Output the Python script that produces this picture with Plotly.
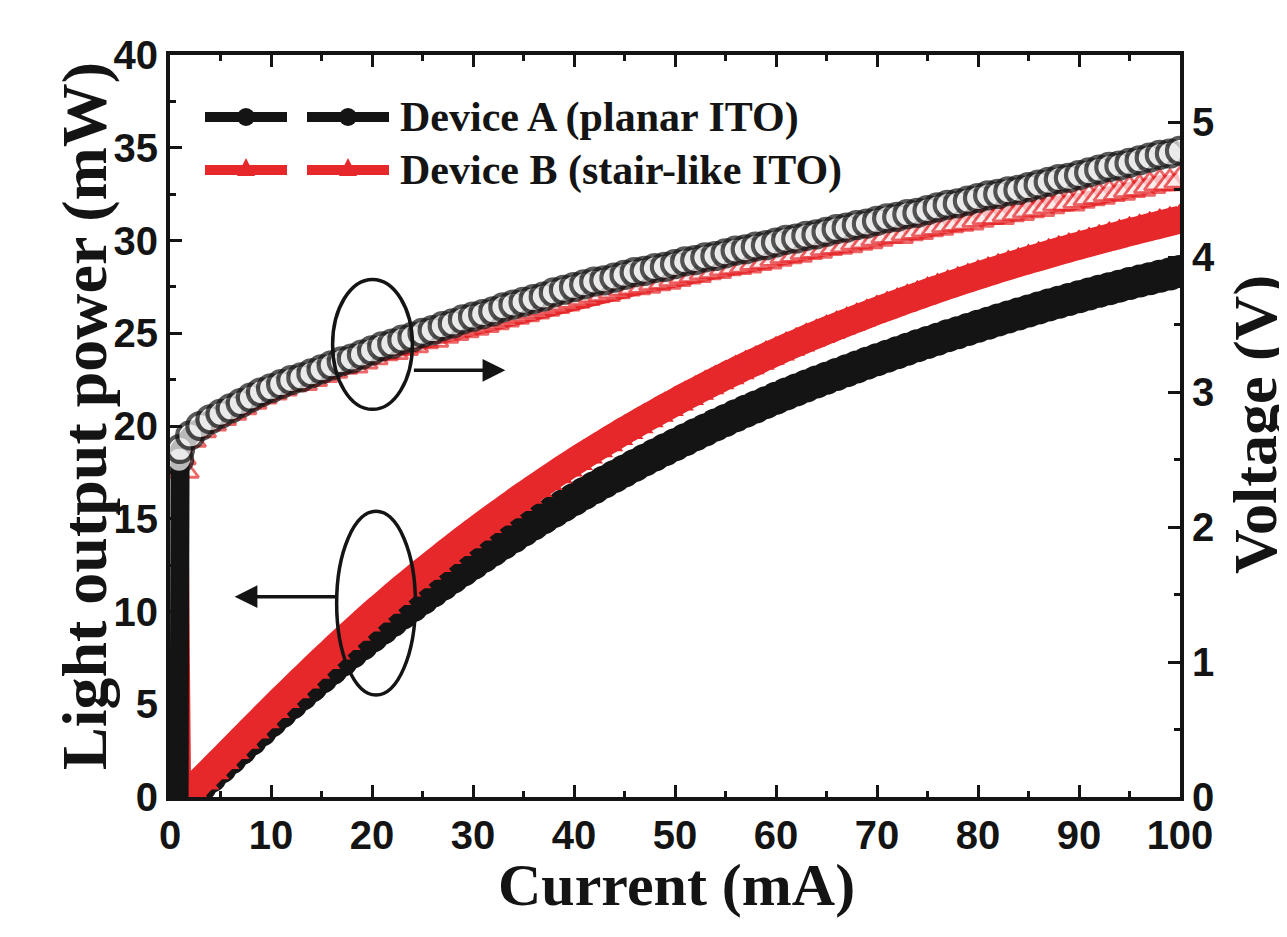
import plotly.graph_objects as go

# ---------------- data ----------------
CURRENT = [0, 1, 2, 3, 4, 5, 6, 7, 8, 9, 10, 11, 12, 13, 14, 15, 16, 17, 18, 19, 20,
           21, 22, 23, 24, 25, 26, 27, 28, 29, 30, 31, 32, 33, 34, 35, 36, 37, 38, 39, 40,
           41, 42, 43, 44, 45, 46, 47, 48, 49, 50, 51, 52, 53, 54, 55, 56, 57, 58, 59, 60,
           61, 62, 63, 64, 65, 66, 67, 68, 69, 70, 71, 72, 73, 74, 75, 76, 77, 78, 79, 80,
           81, 82, 83, 84, 85, 86, 87, 88, 89, 90, 91, 92, 93, 94, 95, 96, 97, 98, 99, 100]

# Light output power (mW), Device A (planar ITO), I = 0..100 mA
LOP_A = [0, 0, 0.1, 0.6, 1.1, 1.6, 2.1, 2.6, 3.1, 3.6, 4.1,
         4.58, 5.05, 5.52, 5.99, 6.45, 6.91, 7.36, 7.8, 8.23, 8.66,
         9.08, 9.5, 9.91, 10.31, 10.7, 11.09, 11.47, 11.85, 12.22, 12.59,
         12.96, 13.32, 13.68, 14.03, 14.38, 14.72, 15.06, 15.39, 15.72, 16.04,
         16.36, 16.67, 16.98, 17.28, 17.58, 17.87, 18.16, 18.44, 18.72, 18.99,
         19.26, 19.53, 19.79, 20.05, 20.3, 20.55, 20.79, 21.03, 21.26, 21.49,
         21.72, 21.94, 22.16, 22.37, 22.58, 22.78, 22.98, 23.18, 23.38, 23.57,
         23.76, 23.95, 24.14, 24.32, 24.5, 24.68, 24.86, 25.03, 25.2, 25.38,
         25.54, 25.71, 25.88, 26.04, 26.2, 26.36, 26.52, 26.67, 26.82, 26.97,
         27.12, 27.26, 27.4, 27.54, 27.68, 27.81, 27.94, 28.07, 28.2, 28.33]

# Light output power (mW), Device B (stair-like ITO), I = 0..100 mA
LOP_B = [0, 0, 0.3, 0.85, 1.4, 1.95, 2.5, 3.05, 3.6, 4.15, 4.7,
         5.24, 5.77, 6.3, 6.82, 7.35, 7.86, 8.37, 8.87, 9.36, 9.85,
         10.32, 10.79, 11.25, 11.7, 12.15, 12.58, 13.01, 13.44, 13.86, 14.27,
         14.68, 15.08, 15.47, 15.86, 16.25, 16.62, 16.99, 17.36, 17.72, 18.07,
         18.42, 18.76, 19.09, 19.42, 19.75, 20.06, 20.38, 20.68, 20.99, 21.28,
         21.58, 21.86, 22.15, 22.42, 22.7, 22.96, 23.23, 23.48, 23.74, 23.98,
         24.23, 24.46, 24.7, 24.92, 25.15, 25.36, 25.58, 25.79, 26.0, 26.21,
         26.41, 26.61, 26.81, 27.0, 27.2, 27.38, 27.57, 27.75, 27.93, 28.11,
         28.28, 28.45, 28.62, 28.78, 28.95, 29.1, 29.26, 29.42, 29.57, 29.72,
         29.87, 30.02, 30.16, 30.3, 30.45, 30.58, 30.72, 30.86, 30.99, 31.12]

# Turn-on part of the I-V curves (current in mA, voltage in V)
TURN_ON_I_A = [0.9, 0.9]
TURN_ON_V_A = [0.0, 2.5]
TURN_ON_I_B = [1.3, 1.3]
TURN_ON_V_B = [0.0, 2.42]

# Forward voltage (V), I = 1..100 mA
VOLT_A = [2.58, 2.68, 2.75, 2.8, 2.84, 2.88, 2.92, 2.96, 3.0, 3.03,
          3.06, 3.09, 3.11, 3.14, 3.17, 3.2, 3.23, 3.25, 3.28, 3.31,
          3.34, 3.36, 3.39, 3.41, 3.44, 3.46, 3.49, 3.51, 3.54, 3.56,
          3.58, 3.6, 3.63, 3.65, 3.67, 3.69, 3.71, 3.74, 3.76, 3.78,
          3.8, 3.82, 3.83, 3.85, 3.87, 3.89, 3.9, 3.92, 3.93, 3.95,
          3.97, 3.98, 4.0, 4.01, 4.03, 4.05, 4.06, 4.08, 4.09, 4.11,
          4.13, 4.14, 4.16, 4.17, 4.19, 4.21, 4.22, 4.24, 4.25, 4.27,
          4.29, 4.3, 4.32, 4.33, 4.35, 4.37, 4.39, 4.4, 4.42, 4.44,
          4.46, 4.47, 4.49, 4.5, 4.52, 4.54, 4.56, 4.58, 4.59, 4.61,
          4.63, 4.65, 4.67, 4.68, 4.7, 4.72, 4.74, 4.76, 4.77, 4.79]

VOLT_B = [2.52, 2.65, 2.72, 2.77, 2.81, 2.85, 2.89, 2.93, 2.97, 3.0,
          3.03, 3.06, 3.07, 3.1, 3.13, 3.16, 3.19, 3.2, 3.23, 3.26,
          3.29, 3.3, 3.33, 3.35, 3.38, 3.39, 3.42, 3.44, 3.46, 3.48,
          3.5, 3.52, 3.54, 3.56, 3.58, 3.6, 3.62, 3.64, 3.66, 3.68,
          3.7, 3.72, 3.73, 3.75, 3.77, 3.78, 3.79, 3.81, 3.82, 3.84,
          3.86, 3.87, 3.89, 3.9, 3.92, 3.93, 3.94, 3.96, 3.97, 3.99,
          4.01, 4.02, 4.04, 4.05, 4.07, 4.08, 4.09, 4.11, 4.12, 4.14,
          4.16, 4.16, 4.18, 4.19, 4.21, 4.22, 4.24, 4.25, 4.26, 4.28,
          4.3, 4.3, 4.32, 4.33, 4.35, 4.36, 4.38, 4.4, 4.4, 4.42,
          4.44, 4.45, 4.47, 4.48, 4.5, 4.51, 4.53, 4.55, 4.55, 4.57]

SERIES_NAMES = ["Device A (planar ITO)", "Device B (stair-like ITO)"]
X_TITLE = "Current (mA)"
Y_TITLE = "Light output power (mW)"
Y2_TITLE = "Voltage (V)"

# ---------------- styling ----------------
BLACK = "#141414"
RED = "#e6282b"
SERIF = "Liberation Serif, Times New Roman, serif"
TICK_FONT = dict(family="Liberation Sans, Arial, sans-serif", size=40, color=BLACK, weight="bold")
TITLE_FONT = dict(family=SERIF, size=60, color=BLACK, weight="bold")
YTITLE_FONT = dict(family=SERIF, size=64, color=BLACK, weight="bold")
Y2TITLE_FONT = dict(family=SERIF, size=62, color=BLACK, weight="bold")
LEG_FONT = dict(family=SERIF, size=42, color=BLACK, weight="bold")

# page body has an 8 px margin: the figure is placed at (8, 8) in the window
OFF = 8
W, H = 1287 - OFF, 937 - OFF
PLOT_L, PLOT_R, PLOT_T, PLOT_B = 170, 1180, 55, 797   # in window pixels

fig = go.Figure()

# L-I curves (filled symbols, thick smooth line underneath keeps the band solid)
fig.add_trace(go.Scatter(x=CURRENT, y=LOP_A, mode="lines+markers", name=SERIES_NAMES[0],
                         line=dict(color=BLACK, width=29, shape="spline", smoothing=1.0),
                         marker=dict(symbol="circle", size=33, color=BLACK, line=dict(width=0)),
                         yaxis="y", showlegend=False))
fig.add_trace(go.Scatter(x=CURRENT, y=LOP_B, mode="lines+markers", name=SERIES_NAMES[1],
                         line=dict(color=RED, width=28, shape="spline", smoothing=1.0),
                         marker=dict(symbol="triangle-up", size=33, color=RED, line=dict(width=0)),
                         yaxis="y", showlegend=False))

# I-V curves (open symbols)
xb = TURN_ON_I_B + CURRENT[1:]
yb = TURN_ON_V_B + VOLT_B
fig.add_trace(go.Scatter(x=xb, y=yb, mode="lines+markers", name=SERIES_NAMES[1],
                         line=dict(color=RED, width=16),
                         marker=dict(symbol="triangle-up", size=[0] + [27] * (len(xb) - 1),
                                     color="white", line=dict(color=RED, width=2.8)),
                         yaxis="y2", showlegend=False))
xa = TURN_ON_I_A + CURRENT[1:]
ya = TURN_ON_V_A + VOLT_A
fig.add_trace(go.Scatter(x=xa, y=ya, mode="lines+markers", name=SERIES_NAMES[0],
                         line=dict(color=BLACK, width=19),
                         marker=dict(symbol="circle", size=[0] + [26] * (len(xa) - 1),
                                     color="white", line=dict(color=BLACK, width=4.2)),
                         yaxis="y2", showlegend=False))

axis_common = dict(showgrid=False, zeroline=False, showline=True, linewidth=4, linecolor=BLACK,
                   ticks="inside", ticklen=12, tickwidth=3, tickcolor=BLACK, tickfont=TICK_FONT)

shapes = []
annotations = []

# ellipses and arrows (data coordinates of the left axis)
shapes.append(dict(type="circle", xref="x", yref="y", x0=16.1, x1=24.0, y0=20.9, y1=27.9,
                   line=dict(color=BLACK, width=3.5)))
shapes.append(dict(type="circle", xref="x", yref="y", x0=16.5, x1=24.3, y0=5.5, y1=15.4,
                   line=dict(color=BLACK, width=3.5)))
annotations.append(dict(x=33.2, y=23.0, ax=24.0, ay=23.0, xref="x", yref="y", axref="x", ayref="y",
                        showarrow=True, arrowhead=2, arrowsize=1.3, arrowwidth=3.5, arrowcolor=BLACK,
                        text="", standoff=0, startstandoff=0))
annotations.append(dict(x=6.4, y=10.8, ax=16.5, ay=10.8, xref="x", yref="y", axref="x", ayref="y",
                        showarrow=True, arrowhead=2, arrowsize=1.3, arrowwidth=3.5, arrowcolor=BLACK,
                        text="", standoff=0, startstandoff=0))


def px2x(px):
    return (px - PLOT_L) / float(PLOT_R - PLOT_L)


def py2y(py):
    return (PLOT_B - py) / float(PLOT_B - PLOT_T)


# custom legend (paper coordinates)
for (yy, col, sym) in [(117, BLACK, "circle"), (170, RED, "tri")]:
    for (a, b, m) in [(205, 287, 246), (307, 389, 348)]:
        shapes.append(dict(type="line", xref="paper", yref="paper", x0=px2x(a), x1=px2x(b),
                           y0=py2y(yy), y1=py2y(yy), line=dict(color=col, width=10)))
        if sym == "circle":
            shapes.append(dict(type="circle", xref="paper", yref="paper",
                               x0=px2x(m - 9), x1=px2x(m + 9), y0=py2y(yy + 9), y1=py2y(yy - 9),
                               fillcolor=col, line=dict(color=col, width=0)))
        else:
            path = "M {:.5f},{:.5f} L {:.5f},{:.5f} L {:.5f},{:.5f} Z".format(
                px2x(m - 9), py2y(yy + 6), px2x(m + 9), py2y(yy + 6), px2x(m), py2y(yy - 12))
            shapes.append(dict(type="path", xref="paper", yref="paper", path=path,
                               fillcolor=col, line=dict(color=col, width=0)))

for name, yy in zip(SERIES_NAMES, [117, 170]):
    annotations.append(dict(text=name, xref="paper", yref="paper", x=px2x(398), y=py2y(yy),
                            xanchor="left", yanchor="middle", showarrow=False, font=LEG_FONT))

# axis titles
annotations.append(dict(text=X_TITLE, xref="paper", yref="paper", x=px2x(676), y=py2y(885),
                        xanchor="center", yanchor="middle", showarrow=False, font=TITLE_FONT))
annotations.append(dict(text=Y_TITLE, xref="paper", yref="paper", x=px2x(84), y=py2y(416),
                        xanchor="center", yanchor="middle", showarrow=False, font=YTITLE_FONT,
                        textangle=-90))
annotations.append(dict(text=Y2_TITLE, xref="paper", yref="paper", x=px2x(1255), y=py2y(425),
                        xanchor="center", yanchor="middle", showarrow=False, font=Y2TITLE_FONT,
                        textangle=-90))

fig.update_layout(
    width=W, height=H,
    margin=dict(l=PLOT_L - OFF, r=W - (PLOT_R - OFF), t=PLOT_T - OFF, b=H - (PLOT_B - OFF)),
    paper_bgcolor="white", plot_bgcolor="white",
    xaxis=dict(range=[0, 100], tick0=0, dtick=10, mirror="ticks",
               minor=dict(dtick=5, ticks="inside", ticklen=6, tickwidth=3, tickcolor=BLACK),
               **axis_common),
    yaxis=dict(range=[0, 40], tick0=0, dtick=5,
               minor=dict(dtick=2.5, ticks="inside", ticklen=6, tickwidth=3, tickcolor=BLACK),
               **axis_common),
    yaxis2=dict(range=[0, 5.5], tick0=0, dtick=1, overlaying="y", side="right",
                minor=dict(dtick=0.5, ticks="inside", ticklen=6, tickwidth=3, tickcolor=BLACK),
                **axis_common),
    shapes=shapes,
    annotations=annotations,
    showlegend=False,
)

fig.write_html("out.html")
